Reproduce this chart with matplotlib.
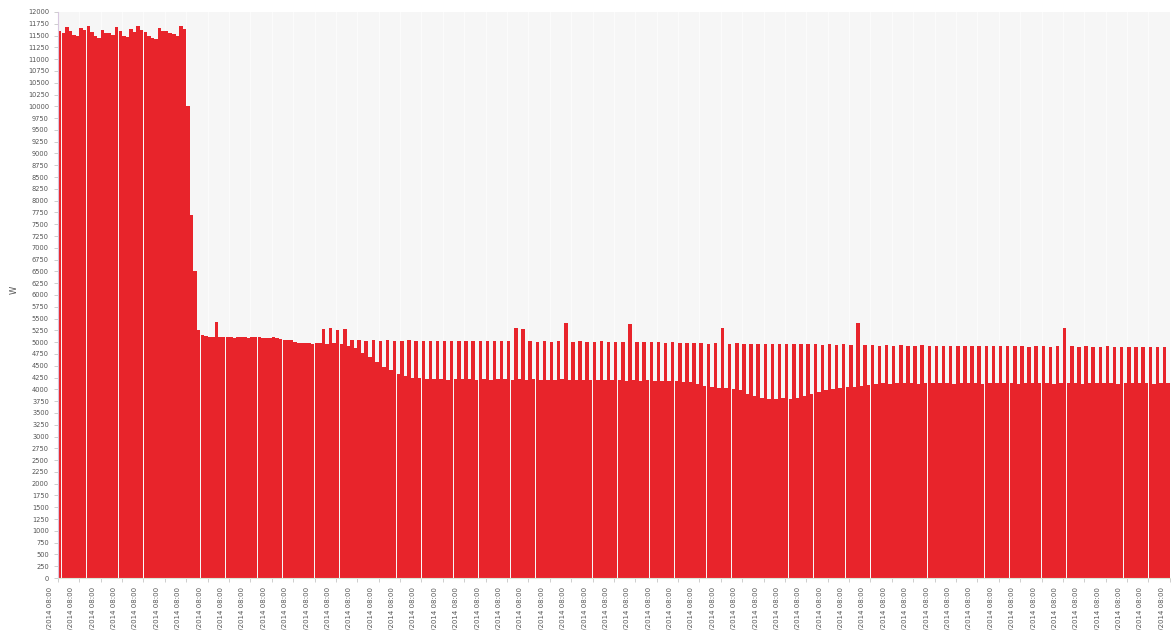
#!/usr/bin/env python
import numpy as np
import matplotlib.pyplot as plt
from matplotlib.transforms import ScaledTranslation

# power readings (W), high and low readings alternate along the time axis
peak_w = [11600, 11680, 11520, 11650, 11700, 11480, 11620, 11560, 11690, 11500,
          11640, 11700, 11580, 11450, 11660, 11600, 11540, 11700,
          10000, 6500,
          5150, 5120, 5420, 5110, 5100, 5120, 5100, 5110, 5100, 5090, 5100, 5060, 5050,
          5000, 4990, 4980, 4990, 5280, 5300, 5260, 5280, 5040,
          5040, 5030, 5040, 5030, 5040, 5030, 5030, 5040, 5030,
          5030, 5020, 5030, 5030, 5020, 5030, 5020, 5030, 5020, 5020, 5030, 5020, 5020,
          5300, 5280,
          5020, 5010, 5020, 5010, 5020,
          5400,
          5010, 5020, 5010, 5010, 5020, 5010, 5010, 5000,
          5380,
          5000, 5010, 5000, 5000, 4990, 5000, 4990, 4980, 4990, 4980, 4970, 4980,
          5300,
          4970, 4980, 4970, 4970, 4960, 4970, 4960, 4970, 4960, 4960,
          4970, 4960, 4960, 4950, 4960, 4950, 4960, 4950,
          5400,
          4940, 4930, 4920, 4930, 4920, 4930, 4920, 4920, 4930, 4920,
          4920, 4910, 4920, 4920, 4910, 4920, 4910, 4920, 4910, 4910,
          4920, 4910, 4910, 4900, 4910, 4910, 4900, 4910,
          5300,
          4910, 4900, 4910, 4900, 4900, 4910, 4900, 4900, 4890, 4900, 4900, 4890, 4900, 4890]

base_w = [11550, 11600, 11480, 11620, 11580, 11450, 11560, 11520, 11600, 11470,
          11580, 11620, 11500, 11420, 11600, 11560, 11480, 11640,
          7700, 5250,
          5130, 5110, 5100, 5100, 5090, 5110, 5090, 5100, 5090, 5080, 5090, 5050, 5040,
          4990, 4980, 4970, 4980, 4970, 4980, 4960, 4920, 4880,
          4780, 4680, 4580, 4480, 4400, 4330, 4280, 4250, 4230,
          4220, 4210, 4220, 4200, 4210, 4220, 4210, 4200, 4210, 4200,
          4220, 4210, 4200, 4210, 4200, 4210, 4200, 4190, 4200, 4210,
          4200, 4190, 4200, 4190, 4200, 4190, 4200, 4190, 4180, 4190,
          4180, 4190, 4180, 4170, 4180, 4170, 4160, 4150, 4120,
          4080, 4050, 4030, 4020, 4000, 3980, 3900, 3850, 3820, 3800,
          3800, 3810, 3800, 3820, 3850, 3900, 3950, 3980, 4000, 4020,
          4040, 4060, 4080, 4100,
          4120, 4130, 4120, 4130, 4140, 4130, 4120, 4130, 4140, 4130,
          4130, 4120, 4130, 4140, 4130, 4120, 4130, 4130, 4140, 4130,
          4120, 4130, 4140, 4130, 4130, 4120, 4130, 4140, 4130, 4120,
          4130, 4130, 4140, 4130, 4120, 4130, 4140, 4130, 4130, 4120,
          4130, 4130]

# one label per day
day_labels = ([f"{d:02d}/10/2014 08:00" for d in range(6, 32)] +
              [f"{d:02d}/11/2014 08:00" for d in range(1, 28)])
readings_per_day = 6

n = len(peak_w) + len(base_w)
pos = np.arange(n)

fig = plt.figure(figsize=(11.71, 6.30), dpi=100)
ax = fig.add_axes([0.0495, 0.0825, 0.9495, 0.8985])
ax.set_facecolor('#f6f6f6')

ax.bar(pos[0::2], peak_w, width=0.97, color='#e8242b', linewidth=0)
ax.bar(pos[1::2], base_w, width=0.97, color='#e8242b', linewidth=0)

ax.set_xlim(-0.5, n - 0.5)
ax.set_ylim(0, 12000)
ax.set_yticks(np.arange(0, 12001, 250))
ax.tick_params(axis='y', labelsize=4.8, labelcolor='#555555', color='#bbbbbb', length=3, width=0.5)

ticks = -0.5 + readings_per_day * np.arange(len(day_labels))
ax.set_xticks(ticks)
ax.set_xticklabels(day_labels, rotation=90, fontsize=5, color='#555555')
ax.tick_params(axis='x', color='#bbbbbb', length=3, width=0.5)
shift = ScaledTranslation(-8 / 100, 0, fig.dpi_scale_trans)
for lab in ax.get_xticklabels():
    lab.set_transform(lab.get_transform() + shift)

ax.grid(axis='x', color='#fbfbfb', linewidth=1.0)
ax.set_axisbelow(True)
for s in ['top', 'right']:
    ax.spines[s].set_visible(False)
ax.spines['left'].set_color('#d8c8e0')
ax.spines['bottom'].set_color('#d8e8d8')

fig.text(0.008, 0.54, 'W', rotation=90, fontsize=6, color='#555555', va='center')

fig.savefig('out.png', dpi=100)
